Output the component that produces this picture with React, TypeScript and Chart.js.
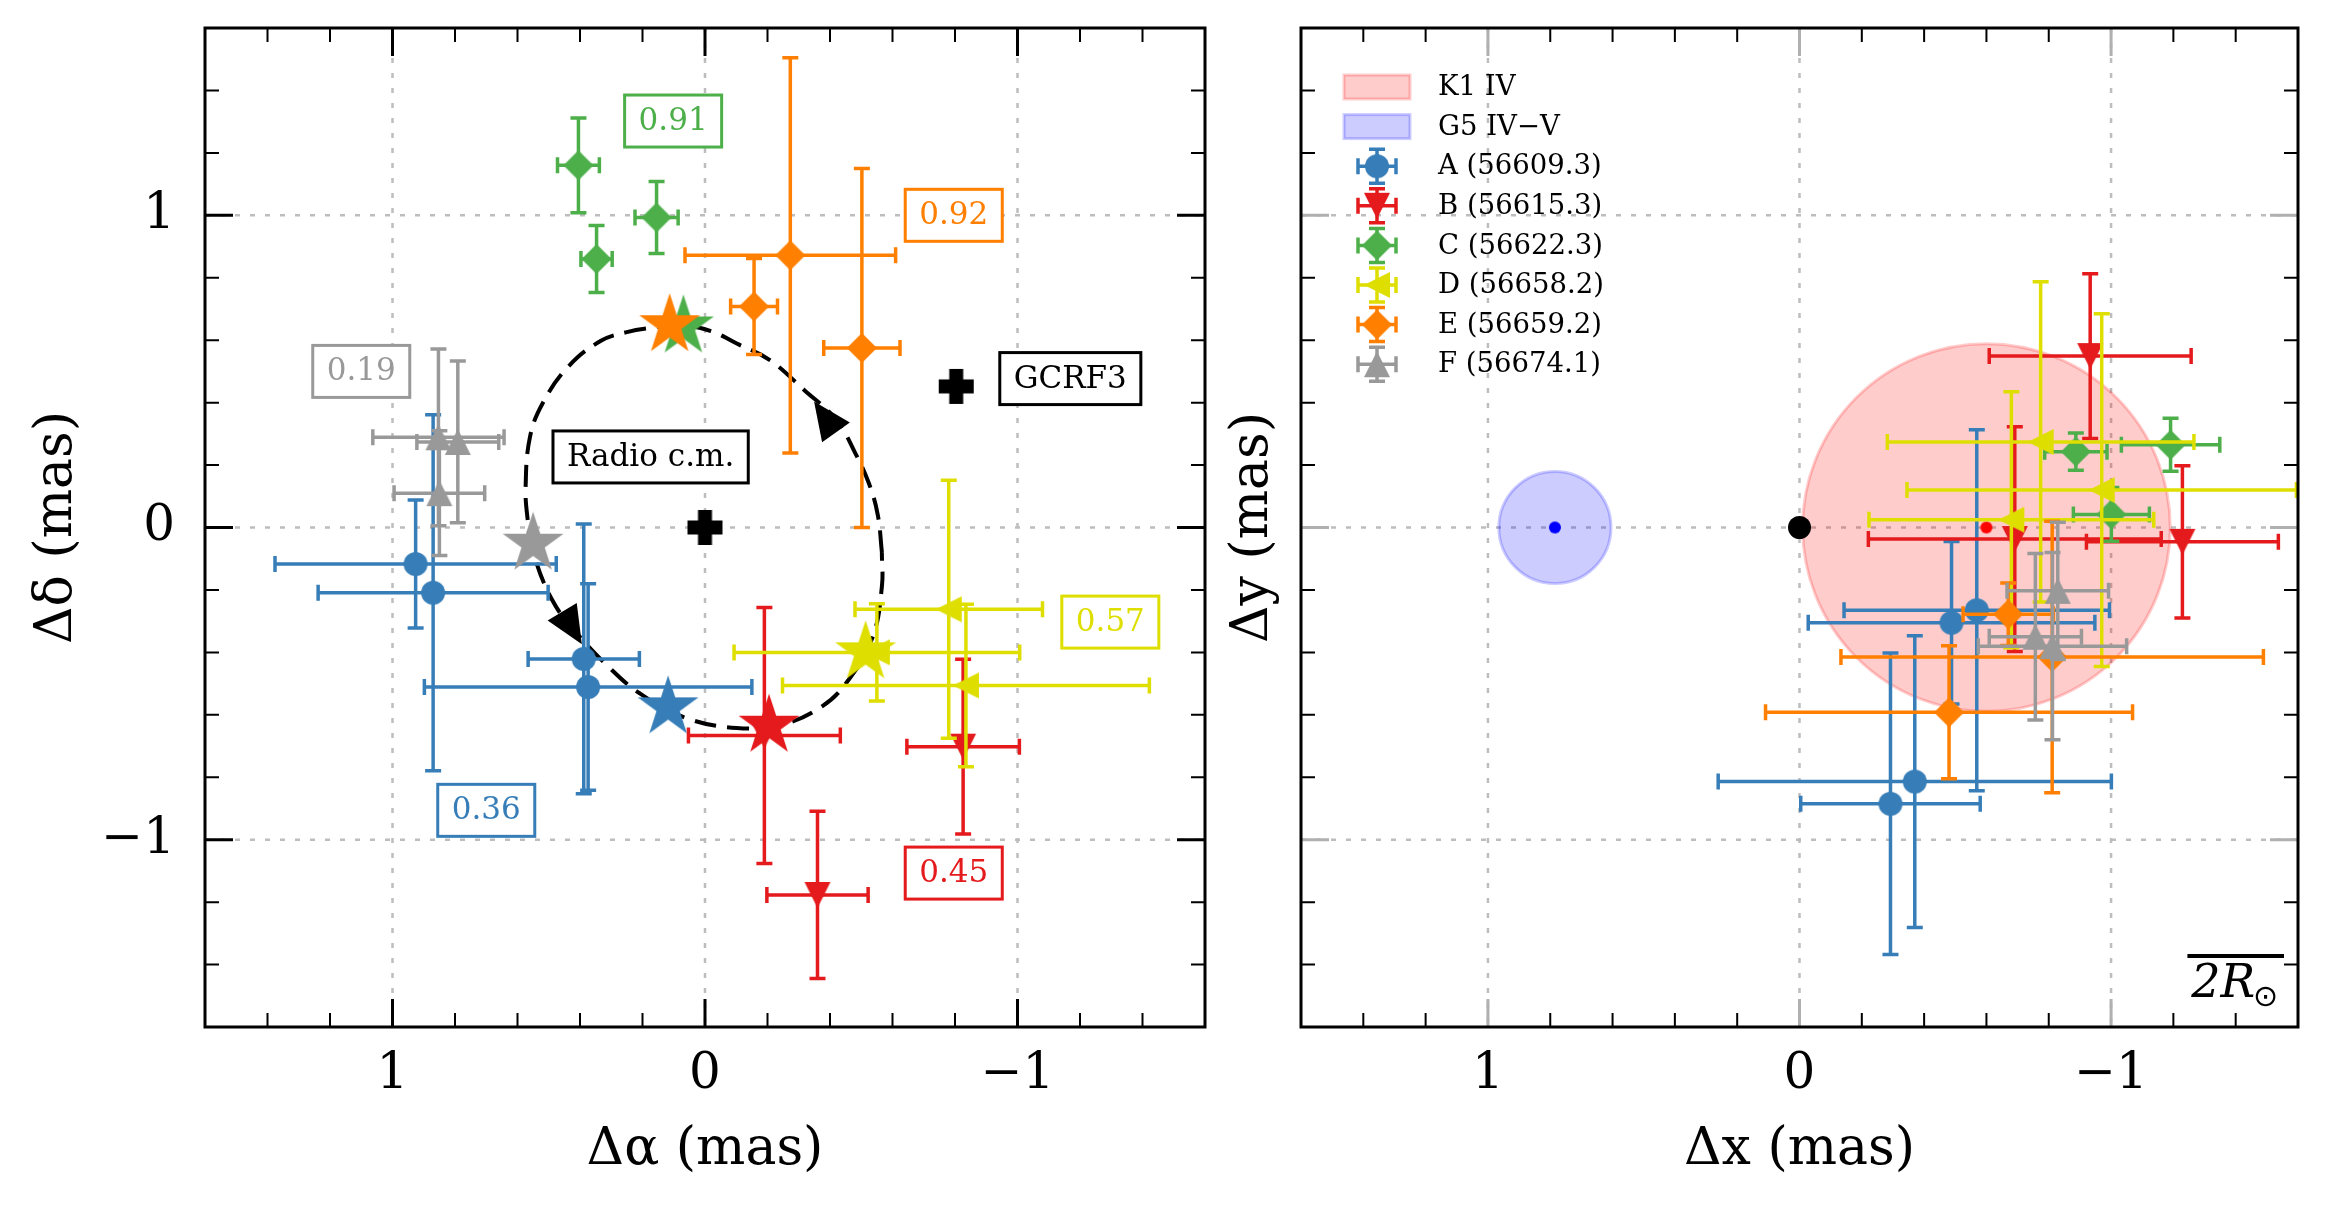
import React, { useEffect, useRef } from 'react';
import { Chart, registerables } from 'chart.js';

Chart.register(...registerables);

// ---------------- data ----------------
const axisMin = -1.6;
const axisMax = 1.6;
const tickStep = 0.2;

const epochColors = ['#377eb8', '#e41a1c', '#4daf4a', '#dede00', '#ff7f00', '#999999'];
const epochNames = ['A (56609.3)', 'B (56615.3)', 'C (56622.3)', 'D (56658.2)', 'E (56659.2)', 'F (56674.1)'];
const epochShapes = ['circle', 'triDown', 'diamond', 'triLeft', 'diamond', 'triUp'];

// Left panel: radio positions [dRA, dDec, errRA, errDec] (mas)
const radioA = [[0.926, -0.117, 0.45, 0.205], [0.87, -0.209, 0.368, 0.57], [0.388, -0.421, 0.178, 0.432], [0.374, -0.511, 0.524, 0.331]];
const radioB = [[-0.19, -0.666, 0.243, 0.41], [-0.36, -1.177, 0.162, 0.268], [-0.826, -0.702, 0.18, 0.28]];
const radioC = [[0.405, 1.16, 0.067, 0.152], [0.155, 0.993, 0.069, 0.115], [0.347, 0.86, 0.05, 0.107]];
const radioD = [[-0.78, -0.262, 0.3, 0.413], [-0.835, -0.506, 0.587, 0.26], [-0.55, -0.4, 0.457, 0.156]];
const radioE = [[-0.273, 0.872, 0.337, 0.633], [-0.157, 0.708, 0.075, 0.154], [-0.502, 0.575, 0.122, 0.575]];
const radioF = [[0.853, 0.289, 0.21, 0.283], [0.791, 0.274, 0.131, 0.259], [0.85, 0.11, 0.145, 0.2]];

// model (orbit) positions at each epoch (stars)
const modelRA = [0.118, -0.205, 0.069, -0.514, 0.113, 0.55];
const modelDec = [-0.576, -0.635, 0.644, -0.4, 0.648, -0.052];

// orbit track
const orbitRA = [-0.566, -0.553, -0.525, -0.48, -0.42, -0.318, -0.205, -0.1, -0.019, 0.08, 0.167, 0.25, 0.333, 0.436, 0.519, 0.56, 0.574, 0.568, 0.55, 0.488, 0.415, 0.312, 0.209, 0.064, -0.101, -0.246, -0.37, -0.452, -0.535, -0.566, -0.566];
const orbitDec = [-0.079, 0.04, 0.14, 0.24, 0.345, 0.44, 0.538, 0.59, 0.629, 0.648, 0.64, 0.626, 0.598, 0.517, 0.399, 0.29, 0.131, 0.03, -0.079, -0.234, -0.333, -0.443, -0.531, -0.609, -0.642, -0.631, -0.576, -0.498, -0.355, -0.19, -0.079];
const arrowTipRA = [0.394, -0.349];
const arrowTipDec = [-0.374, 0.404];
const arrowTailRA = [0.446, -0.421];
const arrowTailDec = [-0.288, 0.302];

// reference positions (Radio c.m., GCRF3)
const refRA = [0, -0.804];
const refDec = [0, 0.452];

// annotation boxes
const tagText = ['0.36', '0.45', '0.91', '0.57', '0.92', '0.19', 'GCRF3', 'Radio c.m.'];
const tagRA = [0.7, -0.796, 0.102, -1.297, -0.796, 1.1, -1.169, 0.174];
const tagDec = [-0.906, -1.107, 1.302, -0.303, 1.0, 0.5, 0.477, 0.226];
const tagColors = ['#377eb8', '#e41a1c', '#4daf4a', '#dede00', '#ff7f00', '#999999', '#000000', '#000000'];

// Right panel: positions [dx, dy, errX, errY] (mas)
const frameA = [[-0.569, -0.265, 0.426, 0.578], [-0.488, -0.305, 0.46, 0.26], [-0.37, -0.814, 0.631, 0.467], [-0.292, -0.885, 0.288, 0.483]];
const frameB = [[-0.933, 0.549, 0.324, 0.264], [-1.229, -0.046, 0.308, 0.244], [-0.691, -0.037, 0.47, 0.36]];
const frameC = [[-0.887, 0.243, 0.1, 0.06], [-1.191, 0.265, 0.158, 0.085], [-1.001, 0.042, 0.122, 0.086]];
const frameD = [[-0.774, 0.274, 0.492, 0.513], [-0.97, 0.12, 0.625, 0.565], [-0.68, 0.025, 0.457, 0.41]];
const frameE = [[-0.67, -0.278, 0.145, 0.1], [-0.811, -0.415, 0.678, 0.435], [-0.48, -0.592, 0.589, 0.213]];
const frameF = [[-0.829, -0.203, 0.163, 0.22], [-0.757, -0.35, 0.148, 0.267], [-0.812, -0.38, 0.238, 0.3]];

// stellar discs
const discNames = ['K1 IV', 'G5 IV\u2212V'];
const discX = [-0.6, 0.785];
const discY = [0, 0];
const discR = [0.59, 0.18];
const discFill = ['rgba(255,0,0,0.2)', 'rgba(0,0,255,0.2)'];
const dotX = [-0.6, 0.785, 0];
const dotY = [0, 0, 0];
const dotColors = ['#ff0000', '#0000ff', '#000000'];
const dotSizes = [12, 12, 23];
const scaleBarMas = 0.31;

// ---------------- helpers ----------------
const FONT = "'DejaVu Serif', serif";

function tickLabel(v: number): string {
  const r = Math.round(v);
  if (Math.abs(v - r) > 1e-6) return '';
  if (r === 0) return '0';
  return r < 0 ? '\u2212' + String(-r) : String(r);
}

const markerSize: Record<string, number> = { circle: 24, triDown: 26, triUp: 26, triLeft: 26, diamond: 30, star: 64, plus: 35, dot: 12 };

function markerCanvas(shape: string, color: string, sizeOverride?: number): HTMLCanvasElement {
  const size = sizeOverride ?? markerSize[shape];
  const c = document.createElement('canvas');
  const dim = Math.ceil(size + 4);
  c.width = dim;
  c.height = dim;
  const g = c.getContext('2d')!;
  const m = dim / 2;
  const h = size / 2;
  g.fillStyle = color;
  g.beginPath();
  if (shape === 'circle') {
    g.arc(m, m, h, 0, Math.PI * 2);
  } else if (shape === 'triUp') {
    g.moveTo(m, m - h); g.lineTo(m + h, m + h); g.lineTo(m - h, m + h);
  } else if (shape === 'triDown') {
    g.moveTo(m - h, m - h); g.lineTo(m + h, m - h); g.lineTo(m, m + h);
  } else if (shape === 'triLeft') {
    g.moveTo(m - h, m); g.lineTo(m + h, m - h); g.lineTo(m + h, m + h);
  } else if (shape === 'diamond') {
    g.moveTo(m, m - h); g.lineTo(m + h, m); g.lineTo(m, m + h); g.lineTo(m - h, m);
  } else if (shape === 'star') {
    for (let k = 0; k < 10; k++) {
      const ang = -Math.PI / 2 + (k * Math.PI) / 5;
      const r = k % 2 === 0 ? h : h * 0.382;
      const px = m + r * Math.cos(ang);
      const py = m + r * Math.sin(ang);
      if (k === 0) g.moveTo(px, py); else g.lineTo(px, py);
    }
  } else if (shape === 'plus') {
    const a = size * 0.2;
    const pts = [[-a, -h], [a, -h], [a, -a], [h, -a], [h, a], [a, a], [a, h], [-a, h], [-a, a], [-h, a], [-h, -a], [-a, -a]];
    pts.forEach((p, i) => (i === 0 ? g.moveTo(m + p[0], m + p[1]) : g.lineTo(m + p[0], m + p[1])));
  }
  g.closePath();
  g.fill();
  return c;
}

function drawErrCross(ctx: CanvasRenderingContext2D, xc: number, yc: number, x0: number, x1: number, y0: number, y1: number, color: string) {
  const cap = 8;
  ctx.strokeStyle = color;
  ctx.lineWidth = 3.5;
  ctx.lineCap = 'butt';
  ctx.setLineDash([]);
  ctx.beginPath();
  ctx.moveTo(x0, yc); ctx.lineTo(x1, yc);
  ctx.moveTo(xc, y0); ctx.lineTo(xc, y1);
  ctx.moveTo(x0, yc - cap); ctx.lineTo(x0, yc + cap);
  ctx.moveTo(x1, yc - cap); ctx.lineTo(x1, yc + cap);
  ctx.moveTo(xc - cap, y0); ctx.lineTo(xc + cap, y0);
  ctx.moveTo(xc - cap, y1); ctx.lineTo(xc + cap, y1);
  ctx.stroke();
}

const errorBarPlugin = {
  id: 'errorBars',
  beforeDatasetDraw(chart: any, args: any) {
    const ds = chart.data.datasets[args.index];
    if (!ds.errX) return;
    const { ctx, chartArea: a } = chart;
    const xs = chart.scales.x;
    const ys = chart.scales.y;
    ctx.save();
    ctx.beginPath();
    ctx.rect(a.left, a.top, a.right - a.left, a.bottom - a.top);
    ctx.clip();
    ds.data.forEach((p: any, i: number) => {
      const ex = ds.errX[i];
      const ey = ds.errY[i];
      drawErrCross(
        ctx,
        xs.getPixelForValue(p.x), ys.getPixelForValue(p.y),
        xs.getPixelForValue(p.x - ex), xs.getPixelForValue(p.x + ex),
        ys.getPixelForValue(p.y - ey), ys.getPixelForValue(p.y + ey),
        ds.errColor,
      );
    });
    ctx.restore();
  },
};

function framePlugin(majorTickColor: string) {
  return {
    id: 'axesFrame',
    beforeDatasetsDraw(chart: any) {
      const { ctx, chartArea: a } = chart;
      const xs = chart.scales.x;
      const ys = chart.scales.y;
      ctx.save();
      ctx.strokeStyle = '#bdbdbd';
      ctx.lineWidth = 2.5;
      ctx.setLineDash([5, 10]);
      ctx.beginPath();
      xs.ticks.forEach((t: any) => {
        if (tickLabel(t.value) === '' || Math.abs(t.value) > 1.59) return;
        const px = xs.getPixelForValue(t.value);
        ctx.moveTo(px, a.top); ctx.lineTo(px, a.bottom);
      });
      ys.ticks.forEach((t: any) => {
        if (tickLabel(t.value) === '' || Math.abs(t.value) > 1.59) return;
        const py = ys.getPixelForValue(t.value);
        ctx.moveTo(a.left, py); ctx.lineTo(a.right, py);
      });
      ctx.stroke();
      ctx.restore();
    },
    afterDatasetsDraw(chart: any) {
      const { ctx, chartArea: a } = chart;
      const xs = chart.scales.x;
      const ys = chart.scales.y;
      ctx.save();
      ctx.setLineDash([]);
      const drawTick = (major: boolean, fn: (len: number) => void) => {
        ctx.strokeStyle = major ? majorTickColor : '#000';
        ctx.lineWidth = major ? 3 : 2;
        ctx.beginPath();
        fn(major ? 28 : 14);
        ctx.stroke();
      };
      xs.ticks.forEach((t: any) => {
        if (Math.abs(t.value) > 1.59) return;
        const px = xs.getPixelForValue(t.value);
        const major = tickLabel(t.value) !== '';
        drawTick(major, (L) => { ctx.moveTo(px, a.bottom); ctx.lineTo(px, a.bottom - L); ctx.moveTo(px, a.top); ctx.lineTo(px, a.top + L); });
      });
      ys.ticks.forEach((t: any) => {
        if (Math.abs(t.value) > 1.59) return;
        const py = ys.getPixelForValue(t.value);
        const major = tickLabel(t.value) !== '';
        drawTick(major, (L) => { ctx.moveTo(a.left, py); ctx.lineTo(a.left + L, py); ctx.moveTo(a.right, py); ctx.lineTo(a.right - L, py); });
      });
      ctx.strokeStyle = '#000';
      ctx.lineWidth = 3;
      ctx.strokeRect(a.left, a.top, a.right - a.left, a.bottom - a.top);
      ctx.restore();
    },
  };
}

const arrowPlugin = {
  id: 'orbitArrows',
  afterDatasetDraw(chart: any, args: any) {
    const ds = chart.data.datasets[args.index];
    if (!ds.isOrbit) return;
    const { ctx } = chart;
    const xs = chart.scales.x;
    const ys = chart.scales.y;
    ctx.save();
    ctx.fillStyle = '#000';
    for (let i = 0; i < arrowTipRA.length; i++) {
      const tx = xs.getPixelForValue(arrowTipRA[i]);
      const ty = ys.getPixelForValue(arrowTipDec[i]);
      const bx = xs.getPixelForValue(arrowTailRA[i]);
      const by = ys.getPixelForValue(arrowTailDec[i]);
      const d = Math.hypot(tx - bx, ty - by);
      const ux = (tx - bx) / d;
      const uy = (ty - by) / d;
      const L = 38;
      const W = 17;
      const cx = tx - ux * L;
      const cy = ty - uy * L;
      ctx.beginPath();
      ctx.moveTo(tx, ty);
      ctx.lineTo(cx - uy * W, cy + ux * W);
      ctx.lineTo(cx + uy * W, cy - ux * W);
      ctx.closePath();
      ctx.fill();
    }
    ctx.restore();
  },
};

const tagPlugin = {
  id: 'tags',
  afterDatasetsDraw(chart: any) {
    const { ctx } = chart;
    const xs = chart.scales.x;
    const ys = chart.scales.y;
    ctx.save();
    ctx.font = `31px ${FONT}`;
    ctx.textAlign = 'center';
    ctx.textBaseline = 'middle';
    tagText.forEach((txt, i) => {
      const cx = xs.getPixelForValue(tagRA[i]);
      const cy = ys.getPixelForValue(tagDec[i]);
      const w = ctx.measureText(txt).width + 28;
      const h = 52;
      ctx.fillStyle = '#fff';
      ctx.fillRect(cx - w / 2, cy - h / 2, w, h);
      ctx.strokeStyle = tagColors[i];
      ctx.lineWidth = 3;
      ctx.strokeRect(cx - w / 2, cy - h / 2, w, h);
      ctx.fillStyle = tagColors[i];
      ctx.fillText(txt, cx, cy + 1);
    });
    ctx.restore();
  },
};

const discPlugin = {
  id: 'discs',
  beforeDatasetsDraw(chart: any) {
    const { ctx, chartArea: a } = chart;
    const xs = chart.scales.x;
    const ys = chart.scales.y;
    ctx.save();
    ctx.beginPath();
    ctx.rect(a.left, a.top, a.right - a.left, a.bottom - a.top);
    ctx.clip();
    discX.forEach((x, i) => {
      const cx = xs.getPixelForValue(x);
      const cy = ys.getPixelForValue(discY[i]);
      const r = Math.abs(xs.getPixelForValue(x + discR[i]) - cx);
      ctx.beginPath();
      ctx.arc(cx, cy, r, 0, Math.PI * 2);
      ctx.fillStyle = discFill[i];
      ctx.fill();
      ctx.strokeStyle = discFill[i];
      ctx.lineWidth = 3;
      ctx.stroke();
    });
    ctx.restore();
  },
};

function legendAndBarPlugin(markers: HTMLCanvasElement[]) {
  return {
    id: 'legendBar',
    afterDatasetsDraw(chart: any) {
      const { ctx, chartArea: a } = chart;
      const xs = chart.scales.x;
      ctx.save();
      const symX = a.left + 76;
      const textX = a.left + 137;
      const row0 = a.top + 59;
      const rowH = 39.6;
      ctx.font = `27.5px ${FONT}`;
      ctx.textBaseline = 'middle';
      ctx.textAlign = 'left';
      discNames.forEach((name, i) => {
        const cy = row0 + i * rowH;
        ctx.fillStyle = discFill[i];
        ctx.fillRect(symX - 33, cy - 12, 66, 24);
        ctx.strokeStyle = discFill[i];
        ctx.lineWidth = 3;
        ctx.strokeRect(symX - 33, cy - 12, 66, 24);
        ctx.fillStyle = '#000';
        ctx.fillText(name, textX, cy + 1);
      });
      epochNames.forEach((name, i) => {
        const cy = row0 + (i + 2) * rowH;
        drawErrCross(ctx, symX, cy, symX - 19, symX + 19, cy - 17, cy + 17, epochColors[i]);
        const mk = markers[i];
        ctx.drawImage(mk, symX - mk.width / 2, cy - mk.height / 2);
        ctx.fillStyle = '#000';
        ctx.fillText(name, textX, cy + 1);
      });
      // scale bar 2R_sun
      const right = a.right - 14;
      const left = right - Math.abs(xs.getPixelForValue(scaleBarMas) - xs.getPixelForValue(0));
      const yBar = a.bottom - 71;
      ctx.strokeStyle = '#000';
      ctx.lineWidth = 4;
      ctx.beginPath();
      ctx.moveTo(left, yBar);
      ctx.lineTo(right, yBar);
      ctx.stroke();
      ctx.fillStyle = '#000';
      ctx.textBaseline = 'alphabetic';
      ctx.font = `italic 46px ${FONT}`;
      const t1 = '2R';
      const w1 = ctx.measureText(t1).width;
      ctx.font = `30px 'DejaVu Sans', sans-serif`;
      const w2 = ctx.measureText('\u2299').width;
      const start = (left + right) / 2 - (w1 + w2) / 2;
      ctx.font = `italic 46px ${FONT}`;
      ctx.fillText(t1, start, a.bottom - 30);
      ctx.font = `30px 'DejaVu Sans', sans-serif`;
      ctx.fillText('\u2299', start + w1 - 2, a.bottom - 21);
      ctx.restore();
    },
  };
}

function makeScales(xTitle: string, yTitle: string, showYLabels: boolean, yAxisWidth: number, yTitlePad: number) {
  const tickFont = { family: FONT, size: 50 };
  const titleFont = { family: FONT, size: 52 };
  const zeroPad = (s: any) => {
    s.paddingLeft = 0;
    s.paddingRight = 0;
    s.paddingTop = 0;
    s.paddingBottom = 0;
  };
  return {
    x: {
      type: 'linear',
      min: axisMin,
      max: axisMax,
      reverse: true,
      ticks: {
        stepSize: tickStep, autoSkip: false, maxRotation: 0, minRotation: 0, padding: 18, color: '#000', font: tickFont,
        callback: (v: any) => tickLabel(Number(v)),
      },
      grid: { display: false, drawTicks: false },
      border: { display: false },
      title: { display: true, text: xTitle, color: '#000', font: titleFont, padding: { top: 0, bottom: 26 } },
      afterFit: (s: any) => { s.height = 181; zeroPad(s); },
    },
    y: {
      type: 'linear',
      min: axisMin,
      max: axisMax,
      ticks: {
        display: showYLabels, stepSize: tickStep, autoSkip: false, padding: 30, color: '#000', font: tickFont,
        callback: (v: any) => tickLabel(Number(v)),
      },
      grid: { display: false, drawTicks: false },
      border: { display: false },
      title: { display: true, text: yTitle, color: '#000', font: titleFont, padding: { top: yTitlePad, bottom: 0 } },
      afterFit: (s: any) => { s.width = yAxisWidth; zeroPad(s); },
    },
  };
}

function seriesDatasets(sets: number[][][], markers: HTMLCanvasElement[], baseOrder: number) {
  return sets.map((rows, i) => ({
    label: epochNames[i],
    data: rows.map((r) => ({ x: r[0], y: r[1] })),
    errX: rows.map((r) => r[2]),
    errY: rows.map((r) => r[3]),
    errColor: epochColors[i],
    pointStyle: markers[i],
    pointRadius: 12,
    pointBorderWidth: 0,
    backgroundColor: epochColors[i],
    borderColor: epochColors[i],
    showLine: false,
    order: baseOrder - i * 10,
  }));
}

const commonOptions = {
  animation: false,
  responsive: false,
  devicePixelRatio: 1,
  events: [],
  plugins: { legend: { display: false }, tooltip: { enabled: false } },
};

export default function App() {
  const leftRef = useRef<HTMLCanvasElement>(null);
  const rightRef = useRef<HTMLCanvasElement>(null);

  useEffect(() => {
    const markers = epochShapes.map((s, i) => markerCanvas(s, epochColors[i]));
    const stars = epochColors.map((c) => markerCanvas('star', c));
    const plus = markerCanvas('plus', '#000');
    const dots = dotColors.map((c, i) => markerCanvas('circle', c, dotSizes[i]));

    const leftDatasets: any[] = [
      {
        label: 'orbit',
        isOrbit: true,
        data: orbitRA.map((x, i) => ({ x, y: orbitDec[i] })),
        showLine: true,
        tension: 0.4,
        borderColor: '#000',
        borderWidth: 4,
        borderDash: [22, 11],
        pointRadius: 0,
        fill: false,
        order: 100,
      },
      ...seriesDatasets([radioA, radioB, radioC, radioD, radioE, radioF], markers, 90),
      {
        label: 'model',
        data: modelRA.map((x, i) => ({ x, y: modelDec[i] })),
        pointStyle: stars,
        pointRadius: 12,
        pointBorderWidth: 0,
        showLine: false,
        order: 20,
      },
      {
        label: 'reference',
        data: refRA.map((x, i) => ({ x, y: refDec[i] })),
        pointStyle: plus,
        pointRadius: 12,
        pointBorderWidth: 0,
        showLine: false,
        order: 10,
      },
    ];

    const left = new Chart(leftRef.current as HTMLCanvasElement, {
      type: 'scatter',
      data: { datasets: leftDatasets },
      options: {
        ...commonOptions,
        layout: { padding: { left: 1, right: 21, top: 28, bottom: 0 } },
        scales: makeScales('\u0394\u03b1 (mas)', '\u0394\u03b4 (mas)', true, 204, 25),
      } as any,
      plugins: [framePlugin('#000'), errorBarPlugin, arrowPlugin, tagPlugin],
    } as any);

    const rightDatasets: any[] = [
      {
        label: 'centres',
        data: dotX.map((x, i) => ({ x, y: dotY[i] })),
        pointStyle: dots,
        pointRadius: 6,
        pointBorderWidth: 0,
        showLine: false,
        order: 100,
      },
      ...seriesDatasets([frameA, frameB, frameC, frameD, frameE, frameF], markers, 90),
    ];

    const right = new Chart(rightRef.current as HTMLCanvasElement, {
      type: 'scatter',
      data: { datasets: rightDatasets },
      options: {
        ...commonOptions,
        layout: { padding: { left: 0, right: 28, top: 28, bottom: 0 } },
        scales: makeScales('\u0394x (mas)', '\u0394y (mas)', false, 91, 12),
      } as any,
      plugins: [framePlugin('#b0b0b0'), discPlugin, errorBarPlugin, legendAndBarPlugin(markers)],
    } as any);

    return () => {
      left.destroy();
      right.destroy();
    };
  }, []);

  return (
    <div style={{ position: 'absolute', left: 0, top: 0, width: 2326, height: 1208, background: '#ffffff' }}>
      <canvas ref={leftRef} width={1226} height={1208} style={{ position: 'absolute', left: 0, top: 0 }} />
      <canvas ref={rightRef} width={1116} height={1208} style={{ position: 'absolute', left: 1210, top: 0 }} />
    </div>
  );
}
